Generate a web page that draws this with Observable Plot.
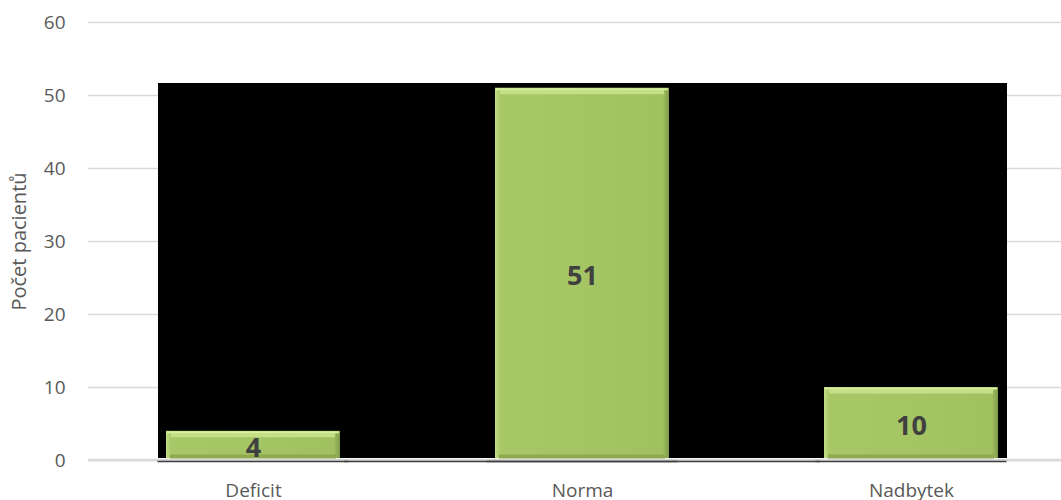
<!DOCTYPE html>
<html>
<head>
<meta charset="utf-8">
<script src="https://cdn.jsdelivr.net/npm/d3@7"></script>
<script src="https://cdn.jsdelivr.net/npm/@observablehq/plot@0.6"></script>
<style>
  html, body { margin: 0; padding: 0; background: #ffffff; }
  #chart { width: 1061px; height: 500px; overflow: hidden; position: relative; }
  #chart svg { max-width: none !important; height: 500px !important; display: block; }
</style>
</head>
<body>
<div id="chart"></div>
<script>
// Patient counts by category
const categories = ["Deficit", "Norma", "Nadbytek"];
const counts = [4, 51, 10];
const yTicks = [0, 10, 20, 30, 40, 50, 60];
const yTitle = "Počet pacientů";
const backdropTop = 51.6; // top of the dark panel behind the bars

const rows = categories.map((category, i) => ({category, count: counts[i]}));

const green = "url(#barBevel)";
const edge = -8.5;     // dark panel overhang beyond the outer bars
const bridge = -151;   // dark panel stretch from the middle band to its neighbours

const chart = Plot.plot({
  width: 1076,
  height: 500,
  marginLeft: 88,
  marginRight: 0,
  marginTop: 22,
  marginBottom: 40,
  style: {fontFamily: "'Open Sans', sans-serif", fontSize: "19px", color: "#595959", background: "#ffffff"},
  x: {domain: categories, paddingInner: 0.472, paddingOuter: 0.236, align: 0.5, label: null},
  y: {domain: [0, 60], label: null},
  marks: [
    Plot.gridY(yTicks, {stroke: "#d9d9d9", strokeOpacity: 1, strokeWidth: 1.5}),
    // dark panel behind the bars
    Plot.barY(rows, {x: "category", y: () => backdropTop, fill: "#000000", insetLeft: edge, insetRight: edge, insetBottom: 2, shapeRendering: "crispEdges"}),
    Plot.barY(rows.filter(d => d.category === "Norma"), {x: "category", y: () => backdropTop, fill: "#000000", insetLeft: bridge, insetRight: bridge, insetBottom: 2, shapeRendering: "crispEdges"}),
    // zero line and the dark baseline under the panel
    Plot.ruleY([0], {stroke: "#d9d9d9", strokeWidth: 2.5, dy: -0.5}),
    Plot.tickY(rows, {x: "category", y: () => 0, stroke: "#3f3f3f", strokeWidth: 1.5, dy: 1, insetLeft: edge, insetRight: edge}),
    Plot.tickY(rows.filter(d => d.category === "Norma"), {x: "category", y: () => 0, stroke: "#3f3f3f", strokeWidth: 1.5, dy: 1, insetLeft: bridge, insetRight: bridge}),
    // bevelled bars
    Plot.barY(rows, {x: "category", y: "count", fill: green, insetBottom: 2}),
    Plot.tickY(rows, {x: "category", y: "count", stroke: "#c4df88", strokeWidth: 4, dy: 4, insetLeft: 5, insetRight: 5}),
    Plot.tickY(rows, {x: "category", y: "count", stroke: "#d9f19c", strokeWidth: 2, dy: 1, insetLeft: 1, insetRight: 1}),
    Plot.tickY(rows, {x: "category", y: () => 0, stroke: "#8ea94f", strokeWidth: 4, dy: -4, insetLeft: 4, insetRight: 4}),
    // axes
    Plot.axisY(yTicks, {tickSize: 0, tickPadding: 23, fontSize: 19, fill: "#595959", label: null}),
    Plot.axisX({tickSize: 0, tickPadding: 23, fontSize: 19, fill: "#595959", label: null}),
    // value labels
    Plot.text(rows, {x: "category", y: d => d.count / 2, text: d => String(d.count), fontSize: 27, fontWeight: "bold", fill: "#404040", dy: 2}),
    // y-axis title
    Plot.text([yTitle], {frameAnchor: "left", text: d => d, rotate: -90, dx: -69, fontSize: 20, fill: "#595959", textAnchor: "middle", lineAnchor: "middle"})
  ]
});

// horizontal gradient giving the bars light left and dark right edges
const defs = d3.select(chart).insert("defs", ":first-child");
const grad = defs.append("linearGradient").attr("id", "barBevel").attr("x1", 0).attr("x2", 1).attr("y1", 0).attr("y2", 0);
[[0, "#c2dd87"], [0.03, "#a8c868"], [0.5, "#a5c564"], [0.965, "#a1c060"], [1, "#7f9a47"]].forEach(([o, c]) =>
  grad.append("stop").attr("offset", o).attr("stop-color", c));

document.getElementById("chart").append(chart);
</script>
</body>
</html>
